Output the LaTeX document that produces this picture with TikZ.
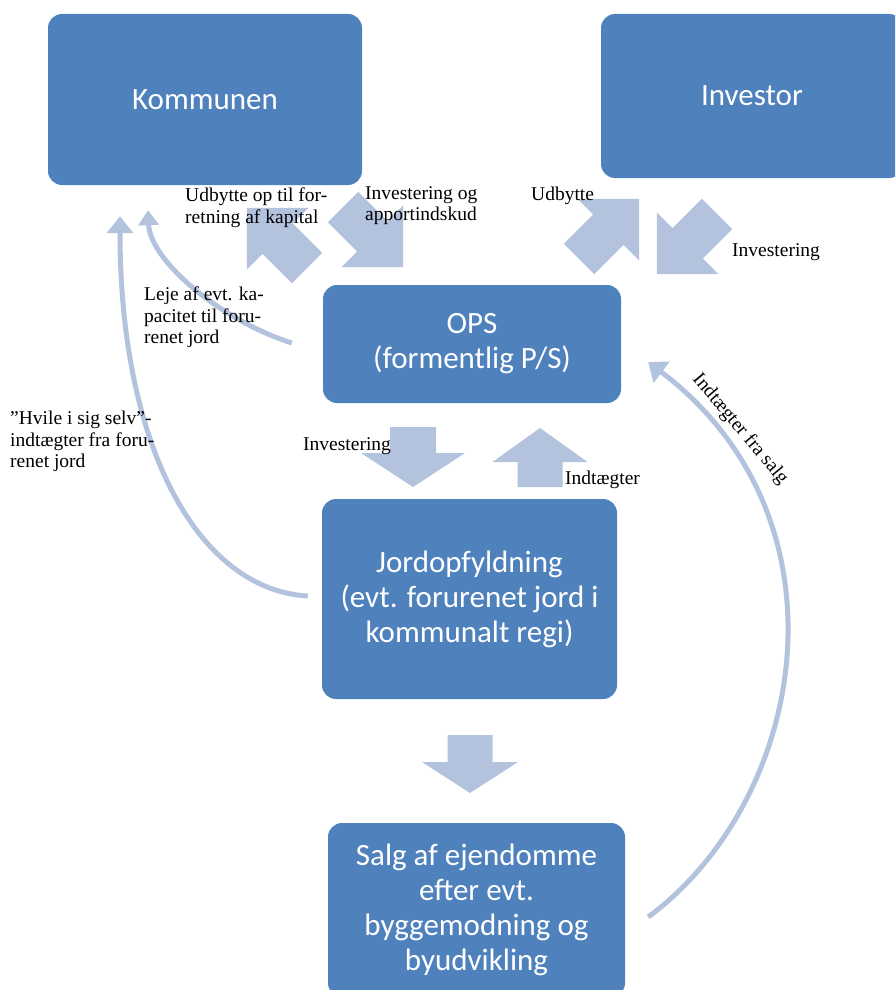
\documentclass[tikz,border=0pt]{standalone}
\usepackage{fontspec}
\setmainfont{Liberation Serif}
\newfontfamily\boxfont{Carlito}
\usepackage{tikz}
\usetikzlibrary{arrows.meta,calc}
\definecolor{boxblue}{HTML}{4F81BD}
\definecolor{arrowblue}{HTML}{B3C3DE}
\tikzset{
  box/.style={fill=boxblue, rounded corners=14pt, text=white, align=center,
    font=\boxfont\fontsize{31}{35}\selectfont, inner sep=0pt},
  lbl/.style={anchor=north west, align=left, inner sep=0pt,
    font=\fontsize{19.5}{21.5}\selectfont},
  thinarrow/.style={draw=arrowblue, line width=5pt, -{Triangle[width=26pt,length=17pt]}},
}
% block arrow: tail, angle, length, half shaft, half head, head length
\newcommand{\blockarrow}[6]{%
  \fill[arrowblue, shift={(#1)}, rotate=#2] (0,-#4) -- (#3-#6,-#4) -- (#3-#6,-#5)
    -- (#3,0) -- (#3-#6,#5) -- (#3-#6,#4) -- (0,#4) -- cycle;}

\begin{document}
\begin{tikzpicture}[x=1pt, y=-1pt]
	\useasboundingbox (0,0) rectangle (895,990);
	\clip (0,0) rectangle (895,990);
	% boxes
	\node[box, minimum width=314pt, minimum height=171pt](komm) at (205,99.5){Kommunen};
	\node[box, minimum width=302pt, minimum height=164pt](inv) at (752,96){Investor};
	\node[box, minimum width=298pt, minimum height=118pt](ops) at (472,344){OPS\\(formentlig P/S)};
	\node[box, minimum width=295pt, minimum height=200pt](jord) at (469.5,599){Jordopfyldning\\(evt. forurenet jord i\\kommunalt regi)};
	\node[box, minimum width=297pt, minimum height=174pt](salg) at (476.5,910){Salg af ejendomme\\efter evt.\\byggemodning og\\byudvikling};
	% block arrows
	\blockarrow{307,268}{135}{85}{21.5}{43.5}{43.5}
	\blockarrow{343,207}{-45}{85}{21.5}{43.5}{43.5}
	\blockarrow{579,259}{45}{85}{21.5}{43.5}{43.5}
	\blockarrow{717,214}{-135}{85}{21.5}{43.5}{43.5}
	\blockarrow{413,427}{-90}{60}{23}{52}{34}
	\blockarrow{540,487}{90}{59}{22.5}{47.5}{34}
	\blockarrow{470,735}{-90}{58}{22.5}{48}{31}
	% curved arrows
	\draw[thinarrow, -{Triangle[width=20pt,length=15pt]}]($(ops.west)+(-31,-1)$) .. controls +(-72,-23) and +(2,50) .. ($(komm.south)+(-57,25)$);
	\draw[thinarrow]($(jord.west)+(-14,-3)$) .. controls +(-108,-6) and +(0,234) .. ($(komm.south)+(-85,31)$);
	\draw[thinarrow]($(salg.east)+(23,7)$) .. controls +(158,-117) and +(208,158) .. ($(ops.east)+(27,18)$);
	% labels
	\node[lbl](udbkomm) at (185,188){Udbytte op til for-\\retning af kapital};
	\node[lbl](invkomm) at (365,186){Investering og\\apportindskud};
	\node[lbl](udbinv) at (531,187){Udbytte};
	\node[lbl](invinv) at (732,243){Investering};
	\node[lbl](leje) at (144,287){Leje af evt. ka-\\pacitet til foru-\\renet jord};
	\node[lbl](hvile) at (10,411){”Hvile i sig selv”-\\indtægter fra foru-\\renet jord};
	\node[lbl](invjord) at (303,437){Investering};
	\node[lbl](indtops) at (565,471){Indtægter};
	\node[lbl, anchor=center, rotate=-50](indtsalg) at (740,429){Indtægter fra salg};
\end{tikzpicture}
\end{document}
